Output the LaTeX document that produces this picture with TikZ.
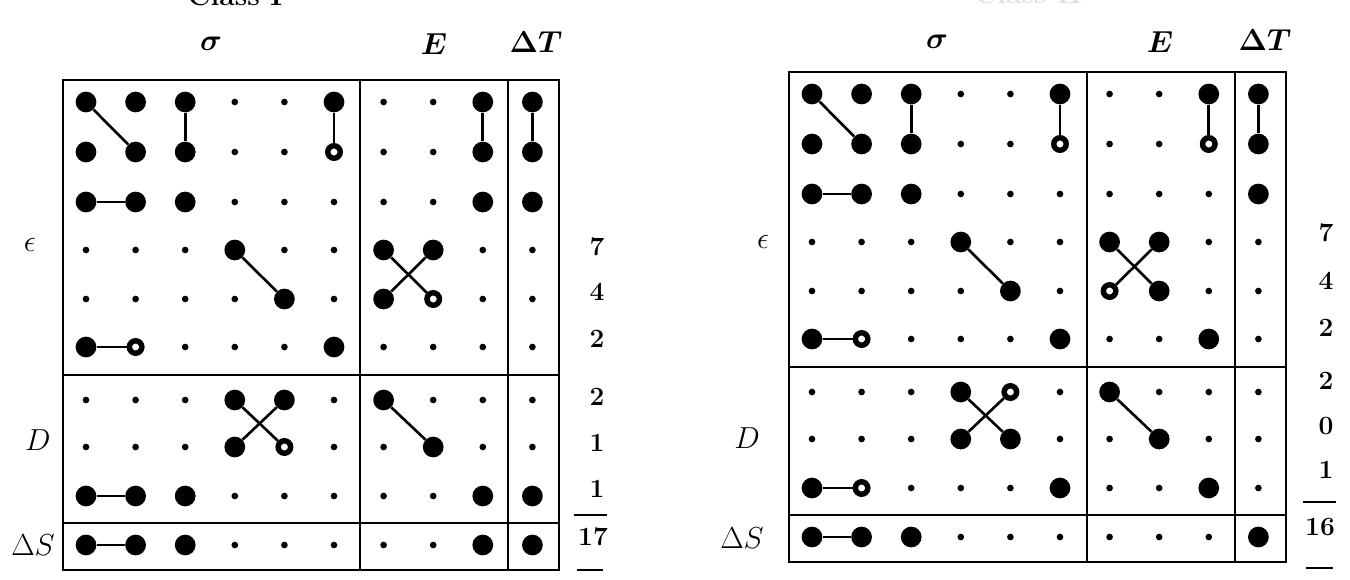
\documentclass[tikz,border=0pt]{standalone}
\usepackage{amsmath}
\usetikzlibrary{positioning}

\tikzset{
  dots/.style={circle,fill=black,inner sep=0pt,minimum size=3.8pt},
  dotb/.style={circle,fill=black,inner sep=0pt,minimum size=11.8pt},
  doto/.style={circle,draw=black,fill=white,line width=3.1pt,inner sep=0pt,minimum size=7.1pt},
  link/.style={line width=1.5pt},
  frame/.style={line width=1.6pt},
  numlbl/.style={font=\fontsize{15}{18}\selectfont\bfseries},
  headlbl/.style={font=\fontsize{16}{19}\selectfont\boldmath},
  sidelbl/.style={font=\fontsize{16}{19}\selectfont},
}

\begin{document}
\begin{tikzpicture}[x=0.02cm,y=-0.02cm,inner sep=0pt]
\useasboundingbox (0,0) rectangle (1350,579);
\clip (0,0) rectangle (1350,579);
\fill[white] (0,0) rectangle (1350,579);

% titles, cut off at the top edge
\node[anchor=base,font=\fontsize{16}{19}\selectfont\bfseries] (titleL) at (235,5) {Class I};
\node[anchor=base,font=\fontsize{16}{19}\selectfont\bfseries,black!12] (titleR) at (1028,3) {Class II};

% left panel
\begin{scope}[shift={(63,80)}]
\foreach \row [count=\r from 0] in {
  {b,b,b,s,s,b,s,s,b,b},
  {b,b,b,s,s,o,s,s,b,b},
  {b,b,b,s,s,s,s,s,b,b},
  {s,s,s,b,s,s,b,b,s,s},
  {s,s,s,s,b,s,b,o,s,s},
  {b,o,s,s,s,b,s,s,s,s},
  {s,s,s,b,b,s,b,s,s,s},
  {s,s,s,b,o,s,s,b,s,s},
  {b,b,b,s,s,s,s,s,b,b},
  {b,b,b,s,s,s,s,s,b,b}}
{
  \pgfmathsetmacro\yy{{22,72,122,170,219,267,320,367,416,465}[\r]}
  \foreach \t [count=\c from 0] in \row
    \node[dot\t] (L-\r-\c) at ({23+49.6*\c},\yy) {};
}
\draw[frame] (0,0) rectangle (496,490);
\draw[frame] (297,0) -- (297,490);
\draw[frame] (445,0) -- (445,490);
\draw[frame] (0,295) -- (496,295);
\draw[frame] (0,443) -- (496,443);
\end{scope}

% right panel
\begin{scope}[shift={(789,72)}]
\foreach \row [count=\r from 0] in {
  {b,b,b,s,s,b,s,s,b,b},
  {b,b,b,s,s,o,s,s,o,b},
  {b,b,b,s,s,s,s,s,s,b},
  {s,s,s,b,s,s,b,b,s,s},
  {s,s,s,s,b,s,o,b,s,s},
  {b,o,s,s,s,b,s,s,b,s},
  {s,s,s,b,o,s,b,s,s,s},
  {s,s,s,b,b,s,s,b,s,s},
  {b,o,s,s,s,b,s,s,b,s},
  {b,b,b,s,s,s,s,s,s,b}}
{
  \pgfmathsetmacro\yy{{22,72,122,170,219,267,320,367,416,465}[\r]}
  \foreach \t [count=\c from 0] in \row
    \node[dot\t] (R-\r-\c) at ({23+49.6*\c},\yy) {};
}
\draw[frame] (0,0) rectangle (497,490);
\draw[frame] (298,0) -- (298,490);
\draw[frame] (446,0) -- (446,490);
\draw[frame] (0,295) -- (497,295);
\draw[frame] (0,443) -- (497,443);
\end{scope}

% left links
\draw[link] (L-0-0) -- (L-1-1);
\draw[link] (L-0-2) -- (L-1-2);
\draw[link] (L-0-5) -- (L-1-5);
\draw[link] (L-2-0) -- (L-2-1);
\draw[link] (L-3-3) -- (L-4-4);
\draw[link] (L-5-0) -- (L-5-1);
\draw[link] (L-0-8) -- (L-1-8);
\draw[link] (L-0-9) -- (L-1-9);
\draw[link] (L-3-6) -- (L-4-7);
\draw[link] (L-4-6) -- (L-3-7);
\draw[link] (L-6-3) -- (L-7-4);
\draw[link] (L-7-3) -- (L-6-4);
\draw[link] (L-6-6) -- (L-7-7);
\draw[link] (L-8-0) -- (L-8-1);
\draw[link] (L-9-0) -- (L-9-1);

% right links
\draw[link] (R-0-0) -- (R-1-1);
\draw[link] (R-0-2) -- (R-1-2);
\draw[link] (R-0-5) -- (R-1-5);
\draw[link] (R-2-0) -- (R-2-1);
\draw[link] (R-3-3) -- (R-4-4);
\draw[link] (R-5-0) -- (R-5-1);
\draw[link] (R-0-8) -- (R-1-8);
\draw[link] (R-0-9) -- (R-1-9);
\draw[link] (R-3-6) -- (R-4-7);
\draw[link] (R-4-6) -- (R-3-7);
\draw[link] (R-6-3) -- (R-7-4);
\draw[link] (R-7-3) -- (R-6-4);
\draw[link] (R-6-6) -- (R-7-7);
\draw[link] (R-8-0) -- (R-8-1);
\draw[link] (R-9-0) -- (R-9-1);

% headers
\node[headlbl] (sigL) at (211,44) {$\sigma$};
\node[headlbl] (EL) at (434,44) {$E$};
\node[headlbl] (dTL) at (536,42) {$\Delta T$};
\node[headlbl] (sigR) at (937,42) {$\sigma$};
\node[headlbl] (ER) at (1160,42) {$E$};
\node[headlbl] (dTR) at (1265,40) {$\Delta T$};

% side labels
\node[sidelbl] (epsL) at (30,245) {$\epsilon$};
\node[sidelbl] (DL) at (38,440) {$D$};
\node[sidelbl] (dSL) at (33,545) {$\Delta S$};
\node[sidelbl] (epsR) at (763,242) {$\epsilon$};
\node[sidelbl] (DR) at (747,438) {$D$};
\node[sidelbl] (dSR) at (742,538) {$\Delta S$};

% counts
\node[numlbl] (nL1) at (597,247) {7};
\node[numlbl] (nL2) at (597,292) {4};
\node[numlbl] (nL3) at (597,339) {2};
\node[numlbl] (nL4) at (597,397) {2};
\node[numlbl] (nL5) at (597,443) {1};
\node[numlbl] (nL6) at (597,489) {1};
\node[numlbl] (sumL) at (593,537) {17};
\draw[line width=1.2pt] (574,515) -- (607,515);
\draw[line width=1.2pt] (577,570) -- (603,570);
\node[numlbl] (nR1) at (1326,233) {7};
\node[numlbl] (nR2) at (1326,281) {4};
\node[numlbl] (nR3) at (1326,328) {2};
\node[numlbl] (nR4) at (1326,381) {2};
\node[numlbl] (nR5) at (1326,426) {0};
\node[numlbl] (nR6) at (1326,470) {1};
\node[numlbl] (sumR) at (1320,527) {16};
\draw[line width=1.2pt] (1303,502) -- (1336,502);
\draw[line width=1.2pt] (1306,568) -- (1333,568);
\end{tikzpicture}
\end{document}
